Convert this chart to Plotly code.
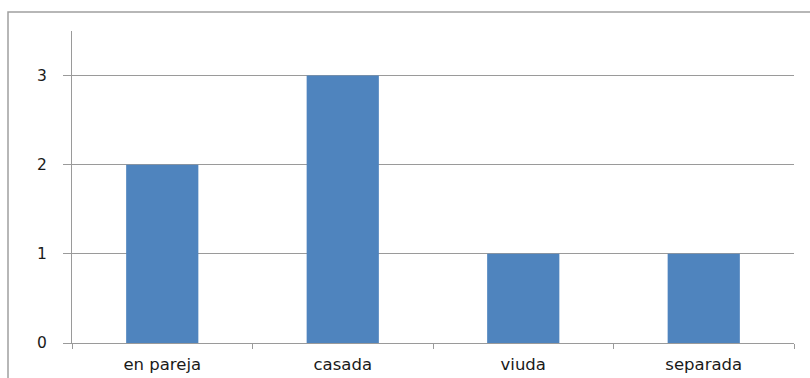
import plotly.graph_objects as go

categories = ["en pareja", "casada", "viuda", "separada"]
counts = [2, 3, 1, 1]

W, H = 810, 378
L, R, T, B = 72, 16, 31, 35
plot_w = W - L - R
plot_h = H - T - B

axis_color = "#9a9a9a"
font = dict(family="DejaVu Sans", size=15.5, color="#1a1a1a")
xfont = dict(family="DejaVu Sans", size=16.5, color="#1a1a1a")

fig = go.Figure(
    go.Bar(
        x=categories,
        y=counts,
        width=0.4,
        marker=dict(color="#4F84BE", line=dict(width=0)),
    )
)

# chart frame around the whole figure (partly outside the page edges)
def px_to_paper_x(px):
    return (px - L) / plot_w

def px_to_paper_y(py):
    return (H - B - py) / plot_h

fig.add_shape(
    type="rect", xref="paper", yref="paper",
    x0=px_to_paper_x(8), x1=px_to_paper_x(W + 40),
    y0=px_to_paper_y(H + 40), y1=px_to_paper_y(12),
    line=dict(color="#a0a0a0", width=1.5), fillcolor="rgba(0,0,0,0)",
    layer="below",
)

fig.update_layout(
    width=W, height=H,
    margin=dict(l=L, r=R, t=T, b=B, pad=0, autoexpand=False),
    paper_bgcolor="white", plot_bgcolor="white",
    showlegend=False,
    bargap=0.6,
    font=font,
    xaxis=dict(
        type="category", automargin=False,
        showline=True, linecolor=axis_color, linewidth=1,
        ticks="outside", tickson="boundaries", ticklen=5,
        tickcolor=axis_color, tickwidth=1,
        showgrid=False, tickfont=xfont, ticklabelstandoff=6,
    ),
    yaxis=dict(
        range=[0, 3.5], dtick=1, tick0=0, automargin=False,
        showline=True, linecolor=axis_color, linewidth=1,
        ticks="outside", ticklen=8, tickcolor=axis_color, tickwidth=1,
        showgrid=True, gridcolor=axis_color, gridwidth=1,
        zeroline=False, tickfont=font, ticklabelstandoff=13,
    ),
)

fig.write_html("out.html")
